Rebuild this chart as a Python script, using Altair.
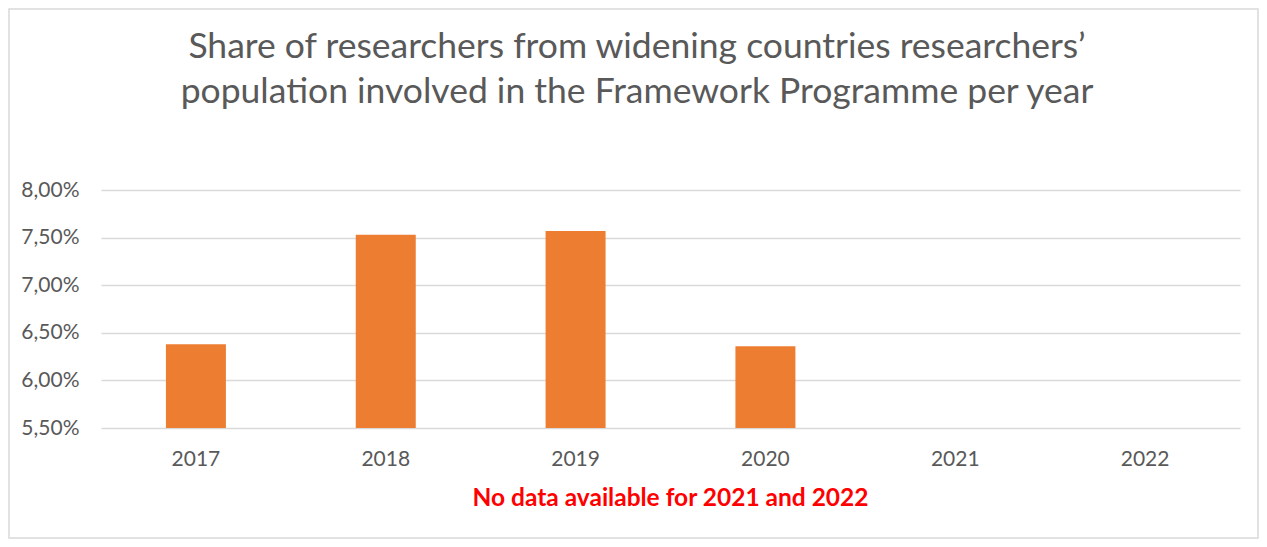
import altair as alt
import pandas as pd

years = ["2017", "2018", "2019", "2020", "2021", "2022"]
shares = [6.38, 7.53, 7.57, 6.36, None, None]  # percent
baseline = 5.5
y_ticks = [5.5, 6.0, 6.5, 7.0, 7.5, 8.0]
title_lines = ["Share of researchers from widening countries researchers’",
               "population involved in the Framework Programme per year"]
note_text = "No data available for 2021 and 2022"

df = pd.DataFrame({"year": years, "share": shares, "base": [baseline] * len(years)})

W, H = 1139, 238
PAD = {"left": 93, "top": 182, "right": 19, "bottom": 111}
FONT = "Lato"
GRAY = "#595959"

x_enc = alt.X("year:N", sort=years, title=None,
              scale=alt.Scale(domain=years, paddingInner=0.684, paddingOuter=0.342),
              axis=alt.Axis(labelAngle=0, ticks=False, tickSize=0, domain=False,
                            labelFont=FONT, labelFontSize=21, labelColor=GRAY,
                            labelPadding=20, grid=False))
y_enc = alt.Y("share:Q", title=None,
              scale=alt.Scale(domain=[5.5, 8.0], zero=False, nice=False),
              axis=alt.Axis(values=y_ticks, ticks=False, tickSize=0, domain=False,
                            labelExpr="replace(format(datum.value, '.2f'), '.', ',') + '%'",
                            labelFont=FONT, labelFontSize=21, labelColor=GRAY,
                            labelPadding=22, gridColor="#d9d9d9", gridWidth=1.5))

bars = alt.Chart(df).mark_bar(color="#ED7D31").encode(
    x=x_enc, y=y_enc, y2="base:Q"
).transform_filter("isValid(datum.share)")

title_df = pd.DataFrame({"t": title_lines, "i": [0, 1]})
title = alt.Chart(title_df).mark_text(
    font=FONT, fontSize=35.5, color=GRAY, align="center", baseline="middle"
).encode(
    text="t:N", x=alt.value(536), y=alt.value(-143.5)
).transform_filter("datum.i == 0")
title2 = alt.Chart(title_df).mark_text(
    font=FONT, fontSize=35.5, color=GRAY, align="center", baseline="middle"
).encode(
    text="t:N", x=alt.value(536), y=alt.value(-98.5)
).transform_filter("datum.i == 1")

note = alt.Chart(pd.DataFrame({"t": [note_text]})).mark_text(
    font=FONT, fontSize=24.5, fontWeight="bold", color="#FF0000",
    align="center", baseline="middle"
).encode(text="t:N", x=alt.value(569.5), y=alt.value(308.5))

frame = alt.Chart(pd.DataFrame({"a": [0]})).mark_rect(
    fill=None, stroke="#d9d9d9", strokeWidth=1.5
).encode(
    x=alt.value(-PAD["left"] + 1), x2=alt.value(W + PAD["right"] - 1),
    y=alt.value(-PAD["top"] + 1), y2=alt.value(H + PAD["bottom"] - 1)
)

chart = alt.layer(bars, title, title2, note, frame).properties(
    width=W, height=H,
    autosize=alt.AutoSizeParams(type="none"),
    padding=PAD,
    background="white",
).configure_view(strokeWidth=0)

chart.save("out.html", embed_options={"renderer": "svg", "actions": False})
